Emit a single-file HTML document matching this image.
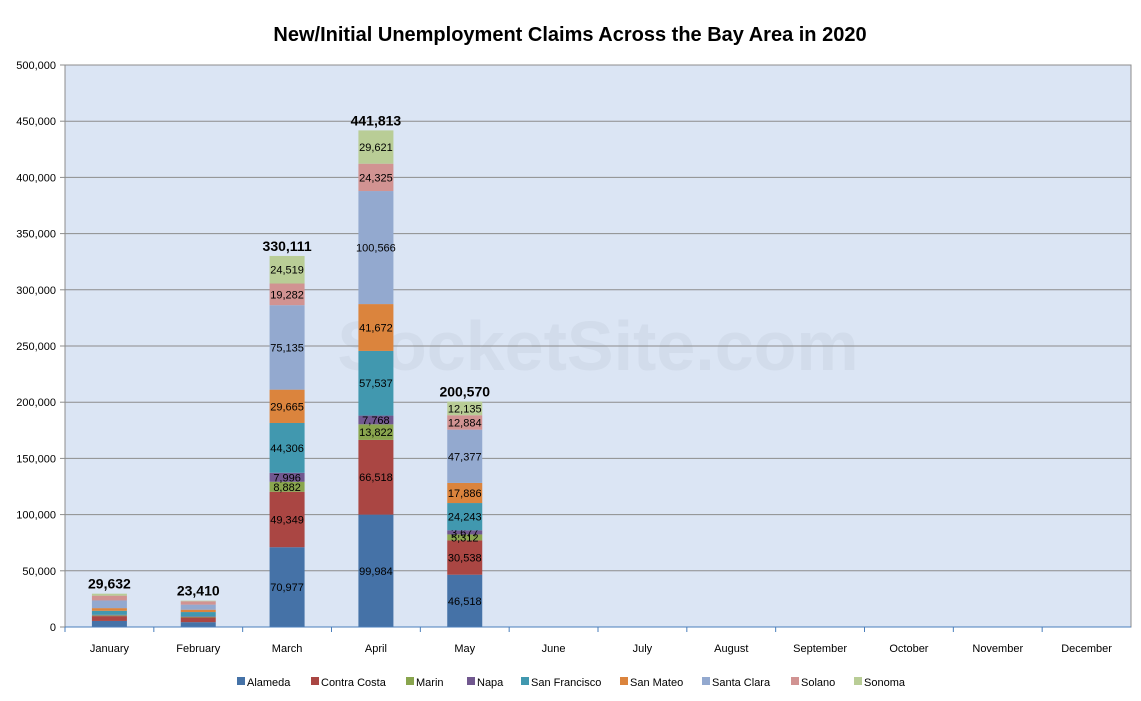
<!DOCTYPE html>
<html><head><meta charset="utf-8"><style>
body{margin:0;width:1141px;height:696px;background:#fff;font-family:"Liberation Sans",sans-serif;overflow:hidden}
svg text{font-family:"Liberation Sans",sans-serif}
</style></head><body>
<svg id="chart" width="1141" height="696">
<text x="570" y="41" text-anchor="middle" font-size="20" font-weight="bold" fill="#000">New/Initial Unemployment Claims Across the Bay Area in 2020</text>
<rect x="65" y="65" width="1066" height="562" fill="#dbe5f4" stroke="#8c8c8c"/>
<text x="598" y="370" text-anchor="middle" font-size="70" font-weight="bold" fill="#c9d3e2" fill-opacity="0.5">SocketSite.com</text>
<g id="grid"></g><g id="bars"></g><g id="axes"></g><g id="legend"></g>
</svg>
<script>
const months=["January","February","March","April","May","June","July","August","September","October","November","December"];
const seriesNames=["Alameda","Contra Costa","Marin","Napa","San Francisco","San Mateo","Santa Clara","Solano","Sonoma"];
const alameda=[5400,4300,70977,99984,46518];
const contraCosta=[4300,4200,49349,66518,30538];
const marin=[700,500,8882,13822,5312];
const napa=[500,400,7996,7768,3677];
const sanFrancisco=[3500,3900,44306,57537,24243];
const sanMateo=[2400,2100,29665,41672,17886];
const santaClara=[6800,4500,75135,100566,47377];
const solano=[4300,3000,19282,24325,12884];
const sonoma=[1732,510,24519,29621,12135];
const showLabels=[false,false,true,true,true];
const yTicks=[0,50000,100000,150000,200000,250000,300000,350000,400000,450000,500000];
const series=[alameda,contraCosta,marin,napa,sanFrancisco,sanMateo,santaClara,solano,sonoma];
const colors=["#4572a7","#aa4643","#89a54e","#71588f","#4198af","#db843d","#93a9cf","#d19392","#b9cd96"];
const NS="http://www.w3.org/2000/svg";
const L=65,R=1131,T=65,B=627,YMAX=500000;
const y=v=>B-(v/YMAX)*(B-T);
const bw=(R-L)/months.length;
const xc=i=>L+bw*(i+0.5);
const fmt=v=>v.toLocaleString("en-US");
function mk(tag,attrs,parent){const e=document.createElementNS(NS,tag);for(const k in attrs)e.setAttribute(k,attrs[k]);parent.appendChild(e);return e;}
const grid=document.getElementById("grid"),bars=document.getElementById("bars"),axes=document.getElementById("axes"),legend=document.getElementById("legend");
yTicks.forEach(t=>{
  const ln=mk("line",{x1:L,x2:R,y1:y(t),y2:y(t),stroke:"#8c8c8c","stroke-width":1},grid);
  
  
  const tk=mk("line",{x1:L-5,x2:L,y1:y(t),y2:y(t),stroke:"#8c8c8c"},axes);
  
  
  const tx=mk("text",{x:L-9,y:y(t)+4,"text-anchor":"end","font-size":11,fill:"#000"},axes);
  tx.textContent=fmt(t);
  
  
});
const ya=mk("line",{x1:L,x2:L,y1:T,y2:B,stroke:"#8c8c8c"},axes);


const xa=mk("line",{x1:L,x2:R,y1:B,y2:B,stroke:"#4a7ebb"},axes);


months.forEach((m,i)=>{
  const tk=mk("line",{x1:L+bw*i,x2:L+bw*i,y1:B,y2:B+5,stroke:"#4a7ebb"},axes);
  
  
  const tx=mk("text",{x:xc(i),y:652,"text-anchor":"middle","font-size":11,fill:"#000"},axes);
  tx.textContent=m;
  
  
});
const barW=35;
for(let i=0;i<alameda.length;i++){
  let cum=0;
  series.forEach((s,k)=>{
    const v=s[i];
    const r=mk("rect",{x:xc(i)-barW/2,y:y(cum+v),width:barW,height:y(cum)-y(cum+v),fill:colors[k]},bars);
    
    
    if(showLabels[i]){
      const t=mk("text",{x:xc(i),y:(y(cum)+y(cum+v))/2+4,"text-anchor":"middle","font-size":11,fill:"#000"},bars);
      t.textContent=fmt(v);
      
      
    }
    cum+=v;
  });
  const tt=mk("text",{x:xc(i),y:y(cum)-5,"text-anchor":"middle","font-size":14,"font-weight":"bold",fill:"#000"},bars);
  tt.textContent=fmt(cum);
  
  
}
const legX=[237,311,406,467,521,620,702,791,854];
seriesNames.forEach((n,k)=>{
  const g=mk("g",{},legend);
  
  
  mk("rect",{x:legX[k],y:677,width:8,height:8,fill:colors[k]},g);
  const t=mk("text",{x:legX[k]+10,y:686,"font-size":11,fill:"#000"},g);
  t.textContent=n;
});
</script>
</body></html>
